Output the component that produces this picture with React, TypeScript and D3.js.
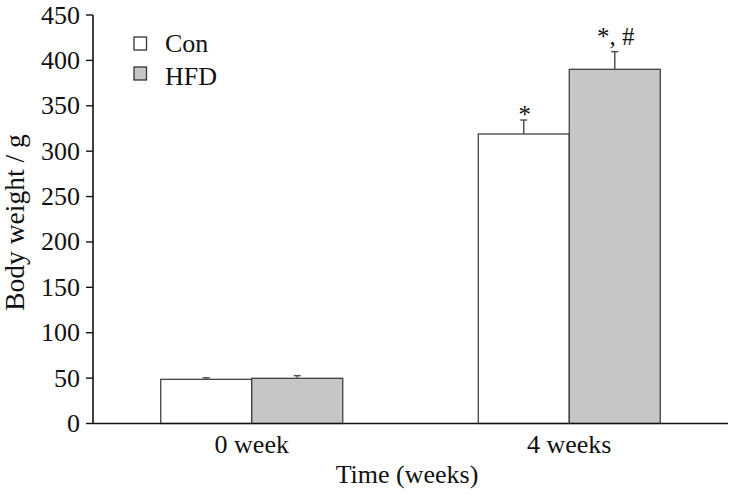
import React from "react";
import * as d3 from "d3";

const groups = ["0 week", "4 weeks"];
const series = ["Con", "HFD"];
const conMeans = [48.7, 318.9];
const conErrs = [1.7, 15.4];
const hfdMeans = [49.8, 390.2];
const hfdErrs = [2.9, 19.4];
const conMarks = ["", "*"];
const hfdMarks = ["", "*, #"];
const yTicks = [0, 50, 100, 150, 200, 250, 300, 350, 400, 450];
const seriesFill = ["#ffffff", "#c6c6c6"];
const markOffset = [-3, 6.5];

const W = 734;
const H = 495;
const FONT = "'Liberation Serif', 'Times New Roman', serif";

export default function App() {
  const left = 93;
  const right = 728;
  const top = 15;
  const bottom = 423.5;
  const y = d3.scaleLinear().domain([0, 450]).range([bottom, top]);
  const x = d3.scaleBand<string>().domain(groups).range([left, right]);
  const barW = 91;
  const inner = d3
    .scaleBand<string>()
    .domain(series)
    .range([0, barW * 2]);

  const means = [conMeans, hfdMeans];
  const errs = [conErrs, hfdErrs];
  const marks = [conMarks, hfdMarks];

  return (
    <svg
      width={W}
      height={H}
      style={{ position: "absolute", left: 0, top: 0, background: "#fff" }}
      fontFamily={FONT}
    >
      {/* bars */}
      {groups.map((g, gi) => {
        const cx = (x(g) as number) + x.bandwidth() / 2;
        const x0 = cx - barW;
        return series.map((s, si) => {
          const v = means[si][gi];
          const e = errs[si][gi];
          const bx = x0 + (inner(s) as number);
          const mid = bx + inner.bandwidth() / 2;
          return (
            <g key={g + s}>
              <rect
                x={bx}
                y={y(v)}
                width={inner.bandwidth()}
                height={y(0) - y(v)}
                fill={seriesFill[si]}
                stroke="#333"
                strokeWidth={1.2}
              />
              <line x1={mid} x2={mid} y1={y(v)} y2={y(v + e)} stroke="#555" strokeWidth={1.5} />
              <line x1={mid - 3.5} x2={mid + 3.5} y1={y(v + e)} y2={y(v + e)} stroke="#555" strokeWidth={1.5} />
              {marks[si][gi] && (
                <text
                  x={mid + 1}
                  y={y(v + e) - markOffset[si]}
                  textAnchor="middle"
                  fontSize={25}
                  fill="#111"
                >
                  {marks[si][gi]}
                </text>
              )}
            </g>
          );
        });
      })}

      {/* axes */}
      <line x1={left} x2={left} y1={top} y2={bottom} stroke="#111" strokeWidth={1.6} />
      <line x1={left} x2={right} y1={bottom} y2={bottom} stroke="#111" strokeWidth={1.6} />
      {yTicks.map((t) => (
        <g key={t}>
          <line x1={left - 7} x2={left} y1={y(t)} y2={y(t)} stroke="#111" strokeWidth={1.4} />
          <text x={80} y={y(t) + 8.5} textAnchor="end" fontSize={26} fill="#111">
            {t}
          </text>
        </g>
      ))}
      {groups.map((g) => (
        <text
          key={g}
          x={(x(g) as number) + x.bandwidth() / 2}
          y={453}
          textAnchor="middle"
          fontSize={26}
          fill="#111"
        >
          {g}
        </text>
      ))}
      <text x={407} y={483} textAnchor="middle" fontSize={26} fill="#111">
        Time (weeks)
      </text>
      <text
        transform={`translate(24,222.5) rotate(-90)`}
        textAnchor="middle"
        fontSize={27.5}
        fill="#111"
      >
        Body weight / g
      </text>

      {/* legend */}
      {series.map((s, si) => (
        <g key={s}>
          <rect
            x={134}
            y={37 + si * 30}
            width={12.5}
            height={13}
            fill={seriesFill[si]}
            stroke="#333"
            strokeWidth={1.3}
          />
          <text x={165} y={52 + si * 32.5} fontSize={26} fill="#111">
            {s}
          </text>
        </g>
      ))}
    </svg>
  );
}
